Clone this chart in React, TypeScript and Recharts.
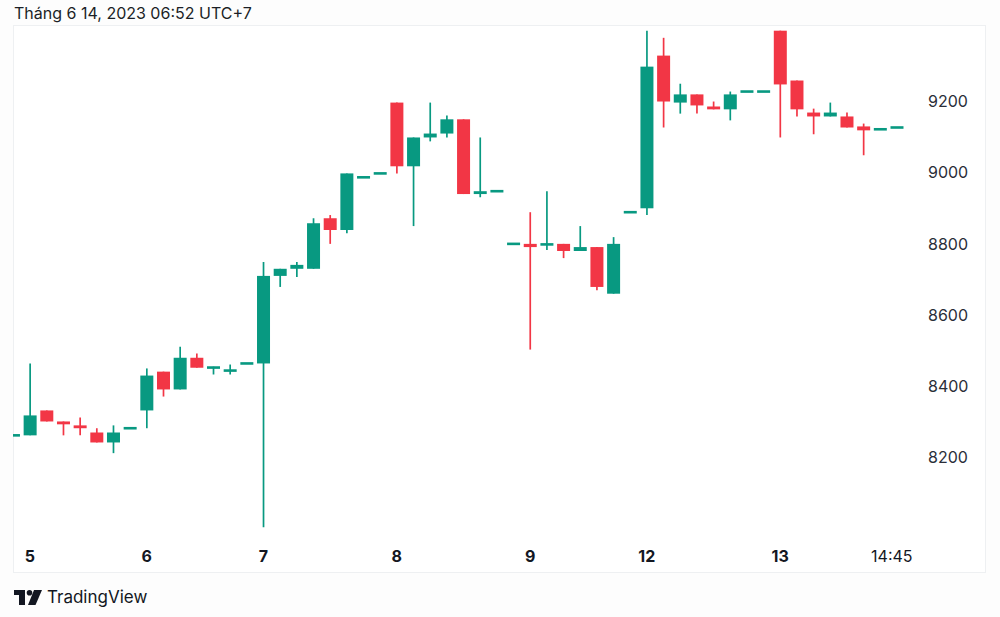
import React from 'react';
import {ComposedChart, Bar, XAxis, YAxis} from 'recharts';

// 1h candles, 5 Jun -> 14 Jun 2023
const opens = [
  8262, 8262, 8332, 8301, 8290, 8270, 8242, 8282, 8332, 8441,
  8391, 8480, 8450, 8441, 8464, 8464, 8710, 8730, 8730, 8872,
  8839, 8987, 8998, 9197, 9018, 9099, 9110, 9150, 8940, 8948,
  8800, 8800, 8797, 8800, 8780, 8791, 8660, 8889, 8900, 9329,
  9197, 9220, 9186, 9178, 9228, 9228, 9399, 9259, 9169, 9158,
  9158, 9130, 9122, 9127,
];
const highs = [
  8262, 8464, 8332, 8301, 8312, 8282, 8290, 8282, 8450, 8441,
  8511, 8492, 8455, 8461, 8464, 8749, 8730, 8749, 8872, 8881,
  8998, 8987, 8998, 9197, 9099, 9197, 9161, 9150, 9099, 8948,
  8800, 8889, 8948, 8800, 8850, 8791, 8819, 8889, 9399, 9379,
  9250, 9220, 9200, 9228, 9228, 9228, 9399, 9259, 9180, 9197,
  9169, 9138, 9122, 9127,
];
const lows = [
  8262, 8262, 8301, 8262, 8262, 8242, 8212, 8282, 8282, 8371,
  8391, 8452, 8433, 8433, 8464, 8004, 8679, 8707, 8730, 8800,
  8830, 8987, 8998, 8998, 8850, 9088, 9099, 8940, 8931, 8948,
  8800, 8503, 8783, 8760, 8780, 8670, 8660, 8889, 8881, 9127,
  9166, 9166, 9178, 9147, 9228, 9228, 9099, 9158, 9108, 9158,
  9127, 9049, 9122, 9127,
];
const closes = [
  8262, 8318, 8301, 8293, 8282, 8242, 8270, 8282, 8430, 8391,
  8480, 8452, 8455, 8447, 8464, 8710, 8730, 8741, 8858, 8839,
  8998, 8987, 8998, 9018, 9099, 9110, 9150, 8940, 8948, 8948,
  8800, 8791, 8800, 8780, 8791, 8679, 8800, 8889, 9298, 9200,
  9220, 9189, 9178, 9220, 9228, 9228, 9248, 9178, 9158, 9169,
  9127, 9119, 9122, 9127,
];

const dayTicks = [2, 9, 16, 24, 32, 39, 47, 53.7];
const dayLabels = ['5', '6', '7', '8', '9', '12', '13', '14:45'];
const priceTicks = [8200, 8400, 8600, 8800, 9000, 9200];

const UP = '#089981';
const DOWN = '#F23645';
const FONT = 'Inter, "Noto Sans", sans-serif';

const data = opens.map((open, k) => ({
  i: k + 1,
  open,
  high: highs[k],
  low: lows[k],
  close: closes[k],
}));

const Candle = (props: any) => {
  const {x, y, width, height, payload} = props;
  if (!payload) return null;
  const {open, close, high, low} = payload;
  const color = close >= open ? UP : DOWN;
  const top = Math.min(y, y + height);
  const h = Math.abs(height);
  const ppu = high > low ? h / (high - low) : 0;
  const yOf = (v: number) => top + (high - v) * ppu;
  let bTop = yOf(Math.max(open, close));
  let bBot = yOf(Math.min(open, close));
  if (bBot - bTop < 2.6) {
    const m = (bTop + bBot) / 2;
    bTop = m - 1.3;
    bBot = m + 1.3;
  }
  const cx = x + width / 2;
  return (
    <g>
      {h > 0 && <line x1={cx} x2={cx} y1={top} y2={top + h} stroke={color} strokeWidth={1.7} />}
      <rect x={x} y={bTop} width={width} height={bBot - bTop} fill={color} />
    </g>
  );
};

const DayTick = (props: any) => {
  const {x, payload} = props;
  const k = dayTicks.indexOf(payload.value);
  const label = dayLabels[k] ?? '';
  const isTime = label.includes(':');
  return (
    <text
      x={x}
      y={537}
      textAnchor="middle"
      fill="#131722"
      style={{fontFamily: FONT, fontSize: 16, fontWeight: isTime ? 400 : 700}}>
      {label}
    </text>
  );
};

const TvLogo = () => (
  <svg width={28} height={16} style={{position: 'absolute', left: 14, top: 590}}>
    <rect x={0} y={0} width={11} height={5} fill="#131722" />
    <rect x={5} y={0} width={6} height={15} fill="#131722" />
    <circle cx={15.5} cy={2.8} r={2.8} fill="#131722" />
    <polygon points="20,0 28,0 21.5,15 14,15" fill="#131722" />
  </svg>
);

export default function App() {
  return (
    <div
      style={{
        position: 'fixed',
        left: 0,
        top: 0,
        width: 1000,
        height: 617,
        background: '#fdfdfd',
        fontFamily: FONT,
      }}>
      <div style={{position: 'absolute', left: 14, top: 3, fontSize: 16, color: '#1b1f26'}}>
        Tháng 6 14, 2023 06:52 UTC+7
      </div>
      <div
        style={{
          position: 'absolute',
          left: 13,
          top: 25,
          width: 971,
          height: 546,
          border: '1px solid #eef0f2',
          background: '#ffffff',
        }}
      />
      <div style={{position: 'absolute', left: 13, top: 25}}>
        <ComposedChart width={973} height={548} data={data} margin={{top: 0, right: 0, bottom: 0, left: 0}}>
          <XAxis
            dataKey="i"
            type="number"
            domain={[0.982, 55.39]}
            allowDataOverflow
            ticks={dayTicks}
            interval={0}
            height={38}
            axisLine={false}
            tickLine={false}
            tick={<DayTick />}
          />
          <YAxis
            orientation="right"
            type="number"
            domain={[7982, 9415]}
            allowDataOverflow
            ticks={priceTicks}
            width={66}
            axisLine={false}
            tickLine={false}
            tick={{fill: '#2a2e39', fontSize: 16, fontFamily: FONT}}
          />
          <Bar
            dataKey={(d: any) => [d.low, d.high]}
            barSize={13}
            shape={<Candle />}
            isAnimationActive={false}
          />
        </ComposedChart>
      </div>
      <TvLogo />
      <div style={{position: 'absolute', left: 47, top: 587, fontSize: 17, color: '#131722'}}>TradingView</div>
    </div>
  );
}
